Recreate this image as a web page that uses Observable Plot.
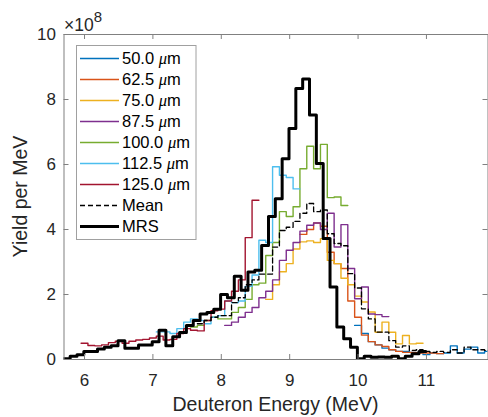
<!DOCTYPE html>
<html><head><meta charset="utf-8">
<script src="https://cdn.jsdelivr.net/npm/d3@7"></script>
<script src="https://cdn.jsdelivr.net/npm/@observablehq/plot@0.6"></script>
<style>
html,body{margin:0;padding:0;background:#fff;}
svg{display:block;}
</style></head><body><div id="chart"></div>
<script>
// ---- data (values in units of 1e8 yield per MeV) ----
const binWidth = 0.1;
const xTicks = [6, 7, 8, 9, 10, 11];
const yTicks = [0, 2, 4, 6, 8, 10];
const xDomain = [5.7, 11.9];
const yDomain = [0, 10];
const seriesLabels = ["50.0", "62.5", "75.0", "87.5", "100.0", "112.5", "125.0"];
const seriesColors = ["#0072BD", "#D95319", "#EDB120", "#7E2F8E", "#77AC30", "#4DBEEE", "#A2142F"];
const seriesStarts = [9.95, 9.15, 8.65, 8.05, 7.55, 7.05, 5.95];
const yield50 = [1.05, 0.8, 0.55, 0.45, 0.35, 0.3, 0.25, 0.25, 0.22, 0.2, 0.15, 0.2, 0.18, 0.2, 0.42, 0.2, 0.32, 0.38, 0.2, 0.25];
const yield62 = [3.85, 4.0, 4.2, 4.1, 3.3, 2.95, 2.8, 1.8, 1.3, 0.75, 0.55, 0.45, 0.4, 0.3, 0.25, 0.22, 0.22, 0.2, 0.2, 0.2, 0.18];
const yield75 = [1.85, 2.3, 2.7, 2.95, 3.4, 3.62, 3.65, 3.6, 3.72, 3.05, 2.95, 2.5, 2.3, 1.95, 1.77, 1.46, 0.84, 1.15, 0.84, 0.48, 0.74, 0.48, 0.5];
const yield87 = [1.05, 1.15, 1.3, 1.45, 1.6, 1.9, 2.1, 2.45, 3.05, 3.36, 3.6, 3.95, 4.13, 4.2, 4.0, 4.5, 3.46, 4.15, 2.8, 1.87, 2.23, 1.4, 1.38, 1.32];
const yield100 = [1.0, 1.05, 1.2, 1.3, 1.25, 1.25, 1.45, 1.6, 1.85, 2.3, 2.35, 3.2, 3.6, 4.55, 4.4, 4.7, 5.87, 6.56, 5.87, 6.62, 4.98, 5.0, 4.74];
const yield112 = [0.85, 0.85, 0.8, 0.95, 1.15, 1.25, 1.2, 1.1, 1.3, 1.35, 1.8, 1.75, 1.8, 2.25, 2.6, 3.67, 3.6, 5.93, 5.67, 5.6, 5.25];
const yield125 = [0.5, 0.43, 0.42, 0.45, 0.52, 0.56, 0.5, 0.56, 0.6, 0.62, 0.66, 0.72, 0.6, 0.62, 0.8, 0.95, 0.9, 0.88, 1.2, 1.5, 1.55, 1.8, 2.1, 2.45, 3.75, 4.9];
const meanStart = 7.65;
const meanYield = [1.1, 1.2, 1.3, 1.35, 1.35, 1.75, 1.9, 2.3, 2.45, 2.63, 2.63, 3.46, 3.97, 4.07, 4.25, 4.5, 4.8, 4.55, 4.6, 3.87, 3.57, 3.5, 2.64, 2.2, 1.56, 1.25, 0.84, 0.84, 0.58, 0.38, 0.42, 0.28, 0.3, 0.25, 0.22, 0.25, 0.22, 0.3, 0.2, 0.38, 0.3, 0.3, 0.28];
const mrsStart = 5.69;
const mrsYield = [0.02, 0.1, 0.15, 0.25, 0.25, 0.32, 0.38, 0.42, 0.58, 0.35, 0.35, 0.45, 0.45, 0.55, 0.9, 0.42, 0.7, 0.83, 1.05, 1.2, 1.4, 1.45, 1.55, 2.0, 1.9, 2.56, 2.13, 2.69, 2.75, 3.51, 4.4, 4.95, 6.18, 7.11, 8.34, 8.63, 7.52, 6.03, 3.72, 2.23, 1.0, 0.64, 0.38, 0.02, 0.1, 0.07, 0.08, 0.07, 0.1, 0.02, 0.1, 0.18, 0.25];
const seriesValues = [yield50, yield62, yield75, yield87, yield100, yield112, yield125];

// step rows: each bin's left edge, plus closing right edge
function steps(start, vals) {
  const rows = vals.map((v, i) => ({x: start + i * binWidth, y: v}));
  rows.push({x: start + vals.length * binWidth, y: vals[vals.length - 1]});
  return rows;
}

const W = 488, H = 417;
const mL = 63.5, mR = 0.5, mT = 34, mB = 58;
const innerW = W - mL - mR, innerH = H - mT - mB;
const FONT = '"Liberation Sans", Arial, Helvetica, sans-serif';
const axisGray = "#808080";
const textCol = "#262626";

const marks = [];
seriesValues.forEach((vals, k) => {
  marks.push(Plot.line(steps(seriesStarts[k], vals), {x: "x", y: "y", curve: "step-after", stroke: seriesColors[k], strokeWidth: 1.4, clip: true}));
});
marks.push(Plot.line(steps(meanStart, meanYield), {x: "x", y: "y", curve: "step-after", stroke: "#000", strokeWidth: 1.3, strokeDasharray: "5,3", clip: true}));
marks.push(Plot.line(steps(mrsStart, mrsYield), {x: "x", y: "y", curve: "step-after", stroke: "#000", strokeWidth: 3, clip: true}));
// inward ticks (y1 = top, y2 = bottom so that insets shorten them)
marks.push(Plot.ruleX(xTicks, {x: d => d, y1: yDomain[1], y2: yDomain[0], insetTop: innerH - 5, stroke: axisGray}));
marks.push(Plot.ruleX(xTicks, {x: d => d, y1: yDomain[1], y2: yDomain[0], insetBottom: innerH - 5, stroke: axisGray}));
marks.push(Plot.ruleY(yTicks, {y: d => d, x1: xDomain[0], x2: xDomain[1], insetRight: innerW - 5, stroke: axisGray}));
marks.push(Plot.ruleY(yTicks, {y: d => d, x1: xDomain[0], x2: xDomain[1], insetLeft: innerW - 5, stroke: axisGray}));
marks.push(Plot.frame({stroke: axisGray, strokeWidth: 1}));
marks.push(Plot.axisX(xTicks, {tickSize: 0, tickPadding: 14, fontSize: 17, label: null, fill: textCol}));
marks.push(Plot.axisY(yTicks, {tickSize: 0, tickPadding: 8, fontSize: 17, label: null, fill: textCol}));

const chart = Plot.plot({
  width: W, height: H,
  marginLeft: mL, marginRight: mR, marginTop: mT, marginBottom: mB,
  x: {domain: xDomain},
  y: {domain: yDomain},
  style: {fontFamily: FONT, background: "#fff", color: textCol, overflow: "visible"},
  marks
});

const svg = d3.select(chart);
// axis titles
svg.append("text").attr("x", mL + innerW / 2).attr("y", 411).attr("text-anchor", "middle")
  .attr("font-size", 19.5).attr("fill", textCol).attr("font-family", FONT).text("Deuteron Energy (MeV)");
svg.append("text").attr("transform", `translate(27,${mT + innerH / 2}) rotate(-90)`).attr("text-anchor", "middle")
  .attr("font-size", 19.5).attr("fill", textCol).attr("font-family", FONT).text("Yield per MeV");
// exponent
const ex = svg.append("text").attr("x", 64).attr("y", 31).attr("text-anchor", "start").attr("font-size", 17.5)
  .attr("fill", textCol).attr("font-family", FONT);
ex.append("tspan").text("\u00d710");
ex.append("tspan").attr("font-size", 15).attr("dy", -9).text("8");

// legend
const lg = svg.append("g").attr("text-anchor", "start");
lg.append("rect").attr("x", 76.5).attr("y", 45.5).attr("width", 119.5).attr("height", 194)
  .attr("fill", "#fff").attr("stroke", "#a0a0a0").attr("stroke-width", 1);
const legendRows = seriesLabels.map((l, k) => ({label: l, color: seriesColors[k], dash: null, w: 1.4, unit: true}))
  .concat([{label: "Mean", color: "#000", dash: "5,3", w: 1.3, unit: false}, {label: "MRS", color: "#000", dash: null, w: 3, unit: false}]);
legendRows.forEach((r, i) => {
  const y = 58.5 + i * 21;
  lg.append("line").attr("x1", 80).attr("x2", 119).attr("y1", y).attr("y2", y)
    .attr("stroke", r.color).attr("stroke-width", r.w).attr("stroke-dasharray", r.dash);
  const t = lg.append("text").attr("x", 122).attr("y", y).attr("dy", "0.36em").attr("font-size", 16.5)
    .attr("text-anchor", "start").attr("fill", "#000").attr("font-family", FONT);
  t.append("tspan").text(r.label + (r.unit ? " " : ""));
  if (r.unit) {
    t.append("tspan").attr("font-style", "italic").attr("font-family", '"Liberation Serif", "DejaVu Serif", serif').text("\u03bc");
    t.append("tspan").text("m");
  }
});

document.getElementById("chart").appendChild(chart);
</script></body></html>
